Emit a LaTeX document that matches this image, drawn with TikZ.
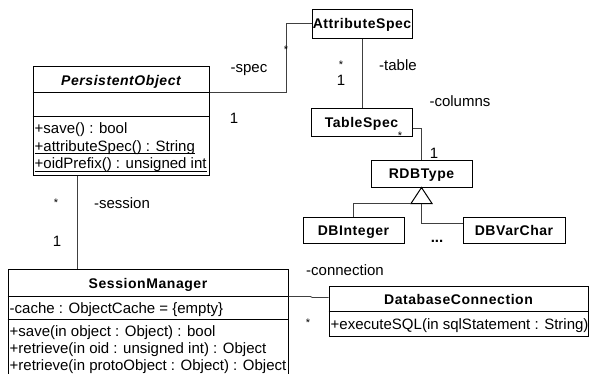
\documentclass[tikz,border=0pt]{standalone}
\usepackage{fontspec}
\setmainfont{Liberation Sans}
\newfontfamily\headfont[LetterSpace=4]{Liberation Sans}
\usetikzlibrary{calc}

\begin{document}
\begin{tikzpicture}[x=1pt, y=-1pt,
  font=\fontsize{15}{17}\selectfont,
  box/.style={draw, line width=1pt, inner sep=0pt},
  head/.style={font=\fontsize{14}{17}\headfont\bfseries, text height=10pt, text depth=0pt},
  row/.style={anchor=base west, inner sep=0pt},
  wire/.style={draw=black!75, line width=0.9pt},
  lbl/.style={anchor=base, inner sep=0pt},
  many/.style={lbl, font=\fontsize{11}{13}\selectfont}]

\useasboundingbox (0,0) rectangle (589,373);

% classes
\node[box, minimum width=176pt, minimum height=109pt] (po) at (121,120.5) {};
\node[box, minimum width=280pt, minimum height=106pt] (sm) at (148,322) {};
\node[box, minimum width=259pt, minimum height=50pt] (dc) at (458.5,311) {};
\node[box, head, minimum width=100pt, minimum height=29pt] (as) at (362,23.5) {AttributeSpec};
\node[box, head, minimum width=101pt, minimum height=28pt] (ts) at (361.5,122) {TableSpec};
\node[box, head, minimum width=101pt, minimum height=27pt] (rt) at (421.5,173.5) {RDBType};
\node[box, head, minimum width=101pt, minimum height=26pt] (di) at (353.5,230) {DBInteger};
\node[box, head, minimum width=102pt, minimum height=26pt] (dv) at (514,230) {DBVarChar};

\coordinate (po-hd) at ($(po.north east)+(0,27)$);
\coordinate (sm-hd) at ($(sm.north east)+(0,28)$);

\draw[line width=1pt] (po.north west) ++(0,27) -- ++(176,0);
\draw[line width=1pt] (po.north west) ++(0,51) -- ++(176,0);
\draw[line width=1pt] (sm.north west) ++(0,28) -- ++(280,0);
\draw[line width=1pt] (sm.north west) ++(0,51) -- ++(280,0);
\draw[line width=1pt] (dc.north west) ++(0,26) -- ++(259,0);

\node[head] (po-name) at (121,80) {\itshape PersistentObject};
\node[head] (sm-name) at (148,283) {SessionManager};
\node[head] (dc-name) at (458.5,299) {DatabaseConnection};

\node[row] (po-op1) at (34.5,133) {+save() : bool};
\node[row] (po-op2) at (34.5,151) {+attributeSpec() : String};
\node[row] (po-op3) at (34.5,168.5) {+oidPrefix() : unsigned int};
\foreach \i in {2,3}
  \draw[line width=0.8pt] ([yshift=-2.5pt]po-op\i.base west) -- ([yshift=-2.5pt]po-op\i.base east);

\node[row] (sm-att) at (9.5,313) {-cache : ObjectCache = \{empty\}};
\foreach \y/\t [count=\i] in {336/{+save(in object : Object) : bool},
    353/{+retrieve(in oid : unsigned int) : Object},
    370/{+retrieve(in protoObject : Object) : Object}}
  \node[row] (sm-op\i) at (9.5,\y) {\t};
\node[row] (dc-op) at (330.5,329) {+executeSQL(in sqlStatement : String)};

% associations
\draw[wire] (po-hd) -- ++(77,0) |- (as.west);
\draw[wire] (as.south) -- (as.south |- ts.north);
\draw[wire] ([yshift=-6pt]ts.east) -| (rt.north);
\draw[wire] ([xshift=45pt]po.south west) -- ([xshift=45pt]po.south west |- sm.north);
\draw[wire] (sm-hd) -- ++(22,0) -- ++(2,1) -- ([yshift=-12pt]dc.north west);

% generalization
\coordinate (gen) at ($(rt.south)+(0,16)$);
\draw[line width=1pt] (rt.south) -- ++(-10.5,16) -- ++(21,0) -- cycle;
\draw[wire] ($(gen)+(-10.5,0)$) -| (di.north);
\draw[wire] (gen) |- ([yshift=7pt]dv.west);
\node[lbl, font=\fontsize{15}{17}\selectfont\bfseries] (more) at (437,242) {...};

% role names and multiplicities
\node[lbl] (spec) at (249,72) {-spec};
\node[many] (spec-m1) at (286,53.5) {*};
\node[lbl] (spec-m2) at (234,123) {1};
\node[lbl] (table) at (398,70) {-table};
\node[many] (table-m1) at (341,68.5) {*};
\node[lbl] (table-m2) at (341,85) {1};
\node[lbl] (cols) at (460,106) {-columns};
\node[many] (cols-m1) at (400,139.5) {*};
\node[lbl] (cols-m2) at (434,158) {1};
\node[lbl] (sess) at (122,208) {-session};
\node[many] (sess-m1) at (56,206.5) {*};
\node[lbl] (sess-m2) at (57,246) {1};
\node[lbl] (conn) at (345,275) {-connection};
\node[many] (conn-m1) at (308,326.5) {*};

\end{tikzpicture}
\end{document}
